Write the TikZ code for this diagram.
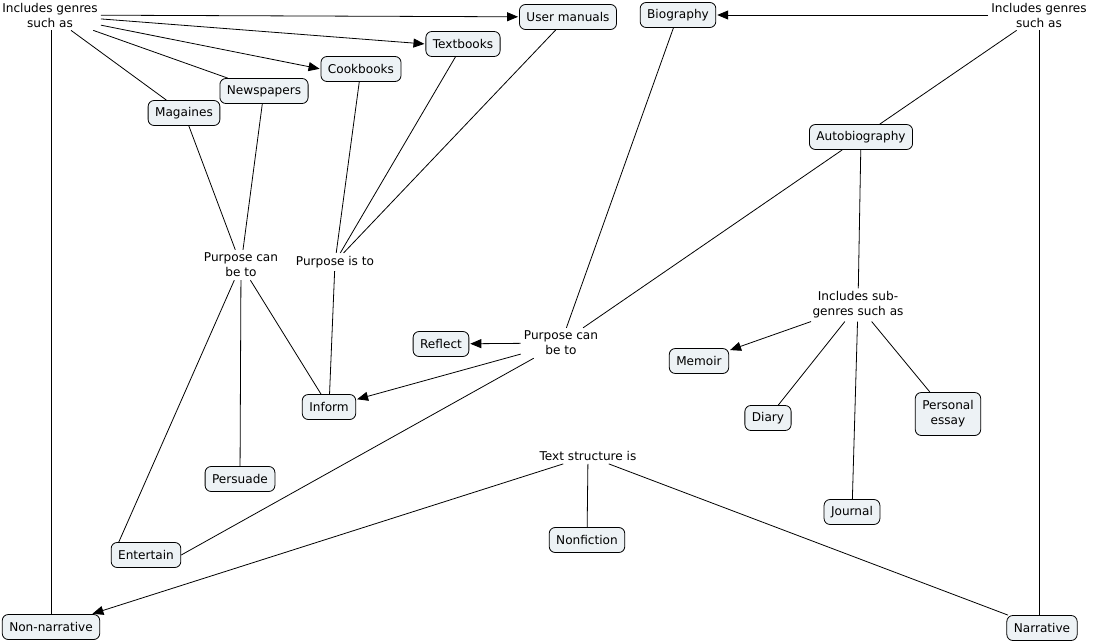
\documentclass[tikz,border=0pt]{standalone}
\usepackage{fontspec}
\setmainfont{DejaVu Sans}
\usetikzlibrary{arrows.meta}
\definecolor{boxfill}{HTML}{EDF2F5}
\begin{document}
\begin{tikzpicture}[x=1pt,y=-1pt,
  txt/.style={font=\fontsize{12.1}{15}\selectfont, align=center},
  box/.style={txt, draw=black, line width=0.8pt, rounded corners=6pt, fill=boxfill, inner xsep=7pt, minimum height=25pt},
  lbl/.style={txt, inner sep=3pt},
  conn/.style={draw, line width=0.8pt},
  arr/.style={conn, -{Triangle[length=11pt,width=9pt]}, shorten >=1pt}]
\useasboundingbox[fill=white] (0,0) rectangle (1093,642);
\node[lbl] (inc1) at (50,15) {Includes genres\\such as};
\node[box] (user) at (568,17) {User manuals};
\node[box] (bio) at (678,15) {Biography};
\node[lbl] (inc2) at (1039,15) {Includes genres\\such as};
\node[box] (textb) at (463,44) {Textbooks};
\node[box] (cook) at (361,69) {Cookbooks};
\node[box] (news) at (264,91) {Newspapers};
\node[box] (mag) at (184,113) {Magaines};
\node[box] (auto) at (861,137) {Autobiography};
\node[lbl] (purL) at (241,265) {Purpose can\\be to};
\node[lbl] (purI) at (335,262) {Purpose is to};
\node[lbl] (purM) at (561,343) {Purpose can\\be to};
\node[box] (refl) at (441,344) {Reflect};
\node[box] (inform) at (329,407) {Inform};
\node[lbl] (sub) at (858,305) {Includes sub-\\genres such as};
\node[box] (memoir) at (699,361) {Memoir};
\node[box] (diary) at (768,418) {Diary};
\node[box, minimum height=43pt] (essay) at (948,414) {Personal\\essay};
\node[box] (journal) at (852,512) {Journal};
\node[lbl] (ts) at (588,456) {Text structure is};
\node[box] (persu) at (240,479) {Persuade};
\node[box] (ent) at (146,555) {Entertain};
\node[box] (nonf) at (587,540) {Nonfiction};
\node[box] (nonn) at (51,627) {Non-narrative};
\node[box] (narr) at (1042,628) {Narrative};

\draw[arr] (inc1) -- (user);
\draw[arr] (inc1) -- (textb.west);
\draw[arr] (inc1) -- (cook.west);
\draw[conn] (inc1) -- (news);
\draw[conn] (inc1) -- (mag);
\draw[conn] (inc1.south -| nonn.north) -- (nonn.north);
\draw[conn] (mag) -- (purL);
\draw[conn] (news) -- (purL);
\draw[conn] (cook) -- (purI);
\draw[conn] (textb) -- (purI);
\draw[conn] (user) -- (purI);
\draw[conn] (purL) -- (inform);
\draw[conn] (purL) -- (persu);
\draw[conn] (purL) -- ([xshift=8pt]ent.north west);
\draw[conn] (purI) -- (inform);
\draw[conn] (bio) -- (purM);
\draw[conn] (auto) -- (purM);
\draw[arr] (purM) -- (refl);
\draw[arr] (purM) -- (inform);
\draw[conn] (purM) -- (ent.east);
\draw[arr] (inc2) -- (bio);
\draw[conn] (inc2) -- (auto);
\draw[conn] (inc2.south) -- (inc2.south |- narr.north);
\draw[conn] (auto) -- (sub);
\draw[arr] (sub) -- (memoir);
\draw[conn] (sub) -- (diary);
\draw[conn] (sub) -- (journal);
\draw[conn] (sub) -- (essay);
\draw[arr] (ts) -- (nonn);
\draw[conn] (ts) -- (nonf);
\draw[conn] (ts) -- (narr);
\end{tikzpicture}
\end{document}
